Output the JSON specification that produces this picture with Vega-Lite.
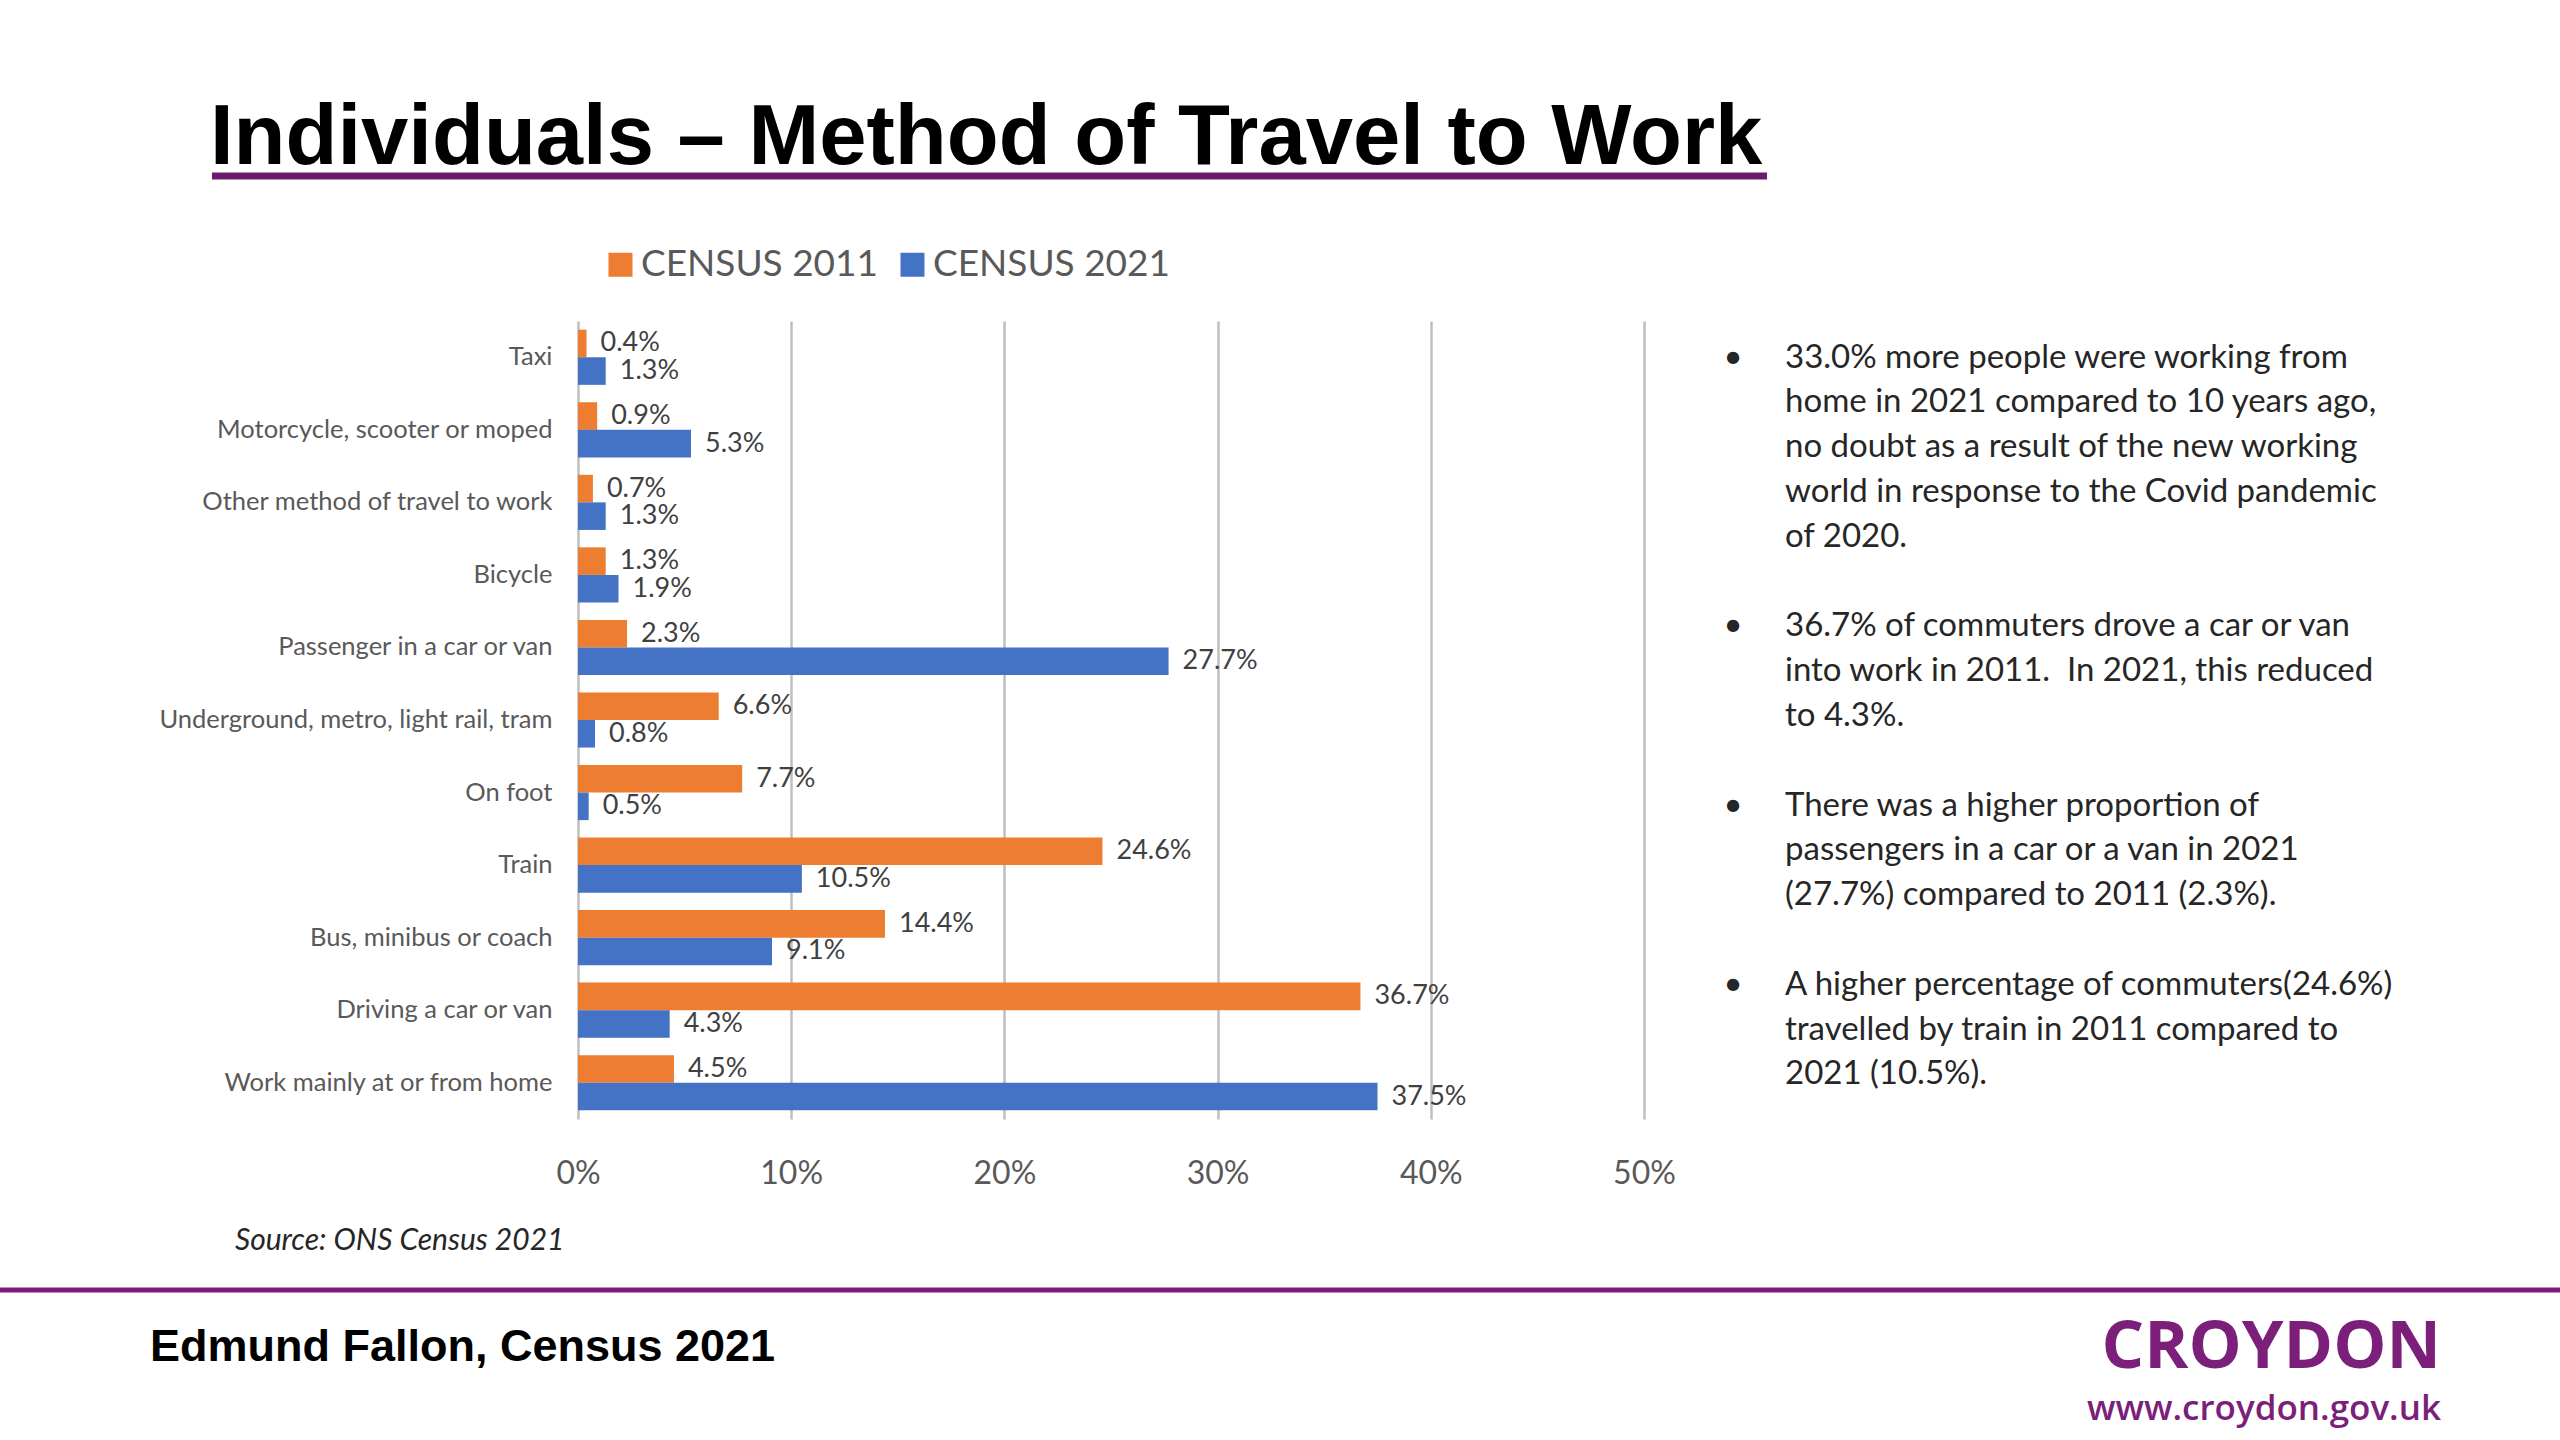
{
  "$schema": "https://vega.github.io/schema/vega-lite/v6.json",
  "width": 2560,
  "height": 1440,
  "autosize": {"type": "none"},
  "padding": 0,
  "background": "white",
  "config": {"view": {"stroke": null}, "font": "Lato"},
  "datasets": {
    "travel": [
      {"method": "Taxi", "census": "CENSUS 2011", "share": 0.004},
      {"method": "Taxi", "census": "CENSUS 2021", "share": 0.013},
      {"method": "Motorcycle, scooter or moped", "census": "CENSUS 2011", "share": 0.009},
      {"method": "Motorcycle, scooter or moped", "census": "CENSUS 2021", "share": 0.053},
      {"method": "Other method of travel to work", "census": "CENSUS 2011", "share": 0.007},
      {"method": "Other method of travel to work", "census": "CENSUS 2021", "share": 0.013},
      {"method": "Bicycle", "census": "CENSUS 2011", "share": 0.013},
      {"method": "Bicycle", "census": "CENSUS 2021", "share": 0.019},
      {"method": "Passenger in a car or van", "census": "CENSUS 2011", "share": 0.023},
      {"method": "Passenger in a car or van", "census": "CENSUS 2021", "share": 0.277},
      {"method": "Underground, metro, light rail, tram", "census": "CENSUS 2011", "share": 0.066},
      {"method": "Underground, metro, light rail, tram", "census": "CENSUS 2021", "share": 0.008},
      {"method": "On foot", "census": "CENSUS 2011", "share": 0.077},
      {"method": "On foot", "census": "CENSUS 2021", "share": 0.005},
      {"method": "Train", "census": "CENSUS 2011", "share": 0.246},
      {"method": "Train", "census": "CENSUS 2021", "share": 0.105},
      {"method": "Bus, minibus or coach", "census": "CENSUS 2011", "share": 0.144},
      {"method": "Bus, minibus or coach", "census": "CENSUS 2021", "share": 0.091},
      {"method": "Driving a car or van", "census": "CENSUS 2011", "share": 0.367},
      {"method": "Driving a car or van", "census": "CENSUS 2021", "share": 0.043},
      {"method": "Work mainly at or from home", "census": "CENSUS 2011", "share": 0.045},
      {"method": "Work mainly at or from home", "census": "CENSUS 2021", "share": 0.375}
    ],
    "bullets": [
      {"line": 0, "first": true, "text": "33.0% more people were working from"},
      {"line": 1, "first": false, "text": "home in 2021 compared to 10 years ago,"},
      {"line": 2, "first": false, "text": "no doubt as a result of the new working"},
      {"line": 3, "first": false, "text": "world in response to the Covid pandemic"},
      {"line": 4, "first": false, "text": "of 2020."},
      {"line": 6, "first": true, "text": "36.7% of commuters drove a car or van"},
      {"line": 7, "first": false, "text": "into work in 2011.\u00a0 In 2021, this reduced"},
      {"line": 8, "first": false, "text": "to 4.3%."},
      {"line": 10, "first": true, "text": "There was a higher proportion of"},
      {"line": 11, "first": false, "text": "passengers in a car or a van in 2021"},
      {"line": 12, "first": false, "text": "(27.7%) compared to 2011 (2.3%)."},
      {"line": 14, "first": true, "text": "A higher percentage of commuters(24.6%)"},
      {"line": 15, "first": false, "text": "travelled by train in 2011 compared to"},
      {"line": 16, "first": false, "text": "2021 (10.5%)."}
    ]
  },
  "layer": [
    {
      "data": {"name": "travel"},
      "encoding": {
        "y": {
          "field": "method",
          "type": "nominal",
          "sort": ["Taxi", "Motorcycle, scooter or moped", "Other method of travel to work", "Bicycle", "Passenger in a car or van", "Underground, metro, light rail, tram", "On foot", "Train", "Bus, minibus or coach", "Driving a car or van", "Work mainly at or from home"],
          "scale": {"range": [321, 1119], "paddingInner": 0.24, "paddingOuter": 0.12},
          "axis": {"orient": "left", "offset": -578, "title": null, "domain": false, "ticks": false, "grid": false, "labelFont": "Lato", "labelFontSize": 25.5, "labelColor": "#595959", "labelPadding": 26, "labelLimit": 1000}
        },
        "yOffset": {"field": "census", "type": "nominal", "sort": ["CENSUS 2011", "CENSUS 2021"]},
        "x": {
          "field": "share",
          "type": "quantitative",
          "scale": {"domain": [0, 0.5], "range": [578, 1644], "nice": false},
          "axis": {"orient": "bottom", "offset": -320, "values": [0, 0.1, 0.2, 0.3, 0.4, 0.5], "format": ".0%", "title": null, "domain": false, "ticks": false, "grid": true, "gridColor": "#BFBFBF", "gridWidth": 2.5, "labelFlush": false, "labelFont": "Lato", "labelFontSize": 32, "labelColor": "#595959", "labelPadding": 38}
        }
      },
      "layer": [
        {
          "mark": {"type": "bar"},
          "encoding": {
            "color": {
              "field": "census",
              "type": "nominal",
              "scale": {"domain": ["CENSUS 2011", "CENSUS 2021"], "range": ["#ED7D31", "#4472C4"]},
              "legend": {"orient": "none", "legendX": 602, "legendY": 246, "direction": "horizontal", "title": null, "padding": 0, "labelFont": "Lato", "labelFontSize": 37, "labelColor": "#595959", "labelLimit": 1000, "symbolType": "square", "symbolSize": 576, "symbolStrokeWidth": 0, "labelOffset": 2, "columnPadding": 15}
            }
          }
        },
        {
          "mark": {"type": "text", "align": "left", "baseline": "middle", "dx": 14, "font": "Lato", "fontSize": 27, "color": "#404040"},
          "encoding": {"text": {"field": "share", "type": "quantitative", "format": ".1%"}}
        }
      ]
    },
    {
      "layer": [
        {
          "data": {"values": [{"title": "Individuals – Method of Travel to Work"}]},
          "layer": [
            {
              "mark": {"type": "text", "font": "Liberation Sans", "fontWeight": "bold", "fontSize": 85, "align": "left", "baseline": "alphabetic", "color": "#000000"},
              "encoding": {
                "text": {"field": "title", "type": "nominal"},
                "x": {"datum": 210, "type": "quantitative", "scale": {"domain": [0, 2560], "range": [0, 2560], "nice": false, "zero": false}, "axis": null},
                "y": {"datum": 164, "type": "quantitative", "scale": {"domain": [0, 1440], "range": [0, 1440], "nice": false, "zero": false}, "axis": null}
              }
            },
            {
              "mark": {"type": "rule", "color": "#6C1A6E", "strokeWidth": 7},
              "encoding": {
                "x": {"datum": 212, "type": "quantitative", "scale": {"domain": [0, 2560], "range": [0, 2560], "nice": false, "zero": false}, "axis": null},
                "x2": {"datum": 1767},
                "y": {"datum": 176, "type": "quantitative", "scale": {"domain": [0, 1440], "range": [0, 1440], "nice": false, "zero": false}, "axis": null}
              }
            }
          ]
        },
        {
          "data": {"name": "bullets"},
          "encoding": {
            "y": {"field": "line", "type": "quantitative", "scale": {"domain": [0, 16], "range": [357.6, 1074.4], "nice": false, "zero": false}, "axis": null}
          },
          "layer": [
            {
              "mark": {"type": "text", "font": "Lato", "fontSize": 33, "align": "left", "baseline": "middle", "color": "#262626"},
              "encoding": {
                "text": {"field": "text", "type": "nominal"},
                "x": {"datum": 1785, "type": "quantitative", "scale": {"domain": [0, 2560], "range": [0, 2560], "nice": false, "zero": false}, "axis": null}
              }
            },
            {
              "transform": [{"filter": "datum.first"}],
              "mark": {"type": "text", "text": "•", "font": "Lato", "fontSize": 33, "align": "center", "baseline": "middle", "color": "#262626"},
              "encoding": {
                "x": {"datum": 1733, "type": "quantitative", "scale": {"domain": [0, 2560], "range": [0, 2560], "nice": false, "zero": false}, "axis": null}
              }
            }
          ]
        },
        {
          "data": {"values": [{"source": "Source: ONS Census 2021"}]},
          "mark": {"type": "text", "font": "Lato", "fontStyle": "italic", "fontSize": 30, "align": "left", "baseline": "middle", "color": "#262626"},
          "encoding": {
            "text": {"field": "source", "type": "nominal"},
            "x": {"datum": 235, "type": "quantitative", "scale": {"domain": [0, 2560], "range": [0, 2560], "nice": false, "zero": false}, "axis": null},
            "y": {"datum": 1241, "type": "quantitative", "scale": {"domain": [0, 1440], "range": [0, 1440], "nice": false, "zero": false}, "axis": null}
          }
        },
        {
          "data": {"values": [{"role": "author", "label": "Edmund Fallon, Census 2021"}, {"role": "logo", "label": "CROYDON"}, {"role": "url", "label": "www.croydon.gov.uk"}]},
          "encoding": {
            "x": {"datum": 0, "type": "quantitative", "scale": {"domain": [0, 2560], "range": [0, 2560], "nice": false, "zero": false}, "axis": null},
            "y": {"datum": 0, "type": "quantitative", "scale": {"domain": [0, 1440], "range": [0, 1440], "nice": false, "zero": false}, "axis": null}
          },
          "layer": [
            {
              "transform": [{"filter": "datum.role === 'author'"}],
              "mark": {"type": "rule", "color": "#7D1C7B", "strokeWidth": 5},
              "encoding": {"x": {"datum": 0, "type": "quantitative"}, "x2": {"datum": 2560}, "y": {"datum": 1290, "type": "quantitative"}}
            },
            {
              "transform": [{"filter": "datum.role === 'author'"}],
              "mark": {"type": "text", "font": "Liberation Sans", "fontWeight": "bold", "fontSize": 45, "align": "left", "baseline": "middle", "color": "#000000"},
              "encoding": {"text": {"field": "label", "type": "nominal"}, "x": {"datum": 150, "type": "quantitative"}, "y": {"datum": 1347, "type": "quantitative"}}
            },
            {
              "transform": [{"filter": "datum.role === 'logo'"}],
              "mark": {"type": "text", "font": "Open Sans", "fontWeight": "bold", "fontSize": 67, "align": "right", "baseline": "middle", "color": "#7B1F7B"},
              "encoding": {"text": {"field": "label", "type": "nominal"}, "x": {"datum": 2441, "type": "quantitative"}, "y": {"datum": 1348, "type": "quantitative"}}
            },
            {
              "transform": [{"filter": "datum.role === 'url'"}],
              "mark": {"type": "text", "font": "Open Sans", "fontWeight": 600, "fontSize": 35, "align": "right", "baseline": "middle", "color": "#7B1F7B"},
              "encoding": {"text": {"field": "label", "type": "nominal"}, "x": {"datum": 2441, "type": "quantitative"}, "y": {"datum": 1409, "type": "quantitative"}}
            }
          ]
        }
      ],
      "resolve": {"scale": {"x": "independent", "y": "independent"}}
    }
  ],
  "resolve": {"scale": {"x": "independent", "y": "independent"}}
}
